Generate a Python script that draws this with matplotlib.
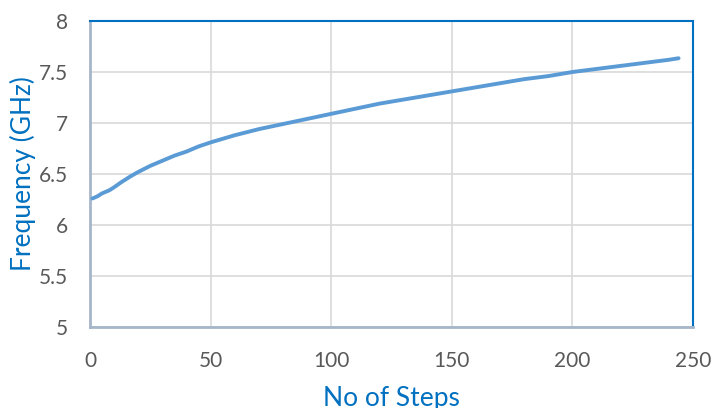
import matplotlib
matplotlib.use("Agg")
import matplotlib.pyplot as plt

# Frequency vs number of steps
steps = [1, 3, 5, 8, 10, 13, 17, 20, 25, 30, 35, 40, 45, 50, 60, 70, 80, 90,
         100, 110, 120, 130, 140, 150, 160, 170, 180, 190, 200, 210, 220, 230, 240, 244]
freq = [6.26, 6.28, 6.31, 6.34, 6.37, 6.42, 6.48, 6.52, 6.58, 6.63, 6.68, 6.72, 6.77, 6.81,
        6.88, 6.94, 6.99, 7.04, 7.09, 7.14, 7.19, 7.23, 7.27, 7.31, 7.35, 7.39, 7.43, 7.46,
        7.50, 7.53, 7.56, 7.59, 7.62, 7.635]

xticks = [0, 50, 100, 150, 200, 250]
yticks = [5, 5.5, 6, 6.5, 7, 7.5, 8]
ytick_labels = ["5", "5.5", "6", "6.5", "7", "7.5", "8"]

plt.rcParams['font.family'] = ['Lato', 'DejaVu Sans']

fig = plt.figure(figsize=(7.13, 4.08), dpi=100)
ax = fig.add_axes([0.1262, 0.1985, 0.8458, 0.75])

ax.plot(steps, freq, color='#5B9BD5', linewidth=2.8, solid_capstyle='round', zorder=3)

ax.set_xlim(0, 250)
ax.set_ylim(5, 8)
ax.set_xticks(xticks)
ax.set_yticks(yticks)
ax.set_yticklabels(ytick_labels)
ax.grid(True, color='#D9D9D9', linewidth=1.2)
ax.set_axisbelow(True)
ax.tick_params(length=0, labelsize=15, labelcolor='#595959')
ax.tick_params(axis='x', pad=17)
ax.tick_params(axis='y', pad=16)

for side in ['top', 'right']:
    ax.spines[side].set_color('#0070C0')
    ax.spines[side].set_linewidth(1.5)
for side in ['left', 'bottom']:
    ax.spines[side].set_color('#A6B6CA')
    ax.spines[side].set_linewidth(2)

ax.set_xlabel("No of Steps", fontsize=19, color='#0070C0', labelpad=11)
ax.set_ylabel("Frequency (GHz)", fontsize=19, color='#0070C0', labelpad=2)

fig.savefig("out.png", dpi=100)
